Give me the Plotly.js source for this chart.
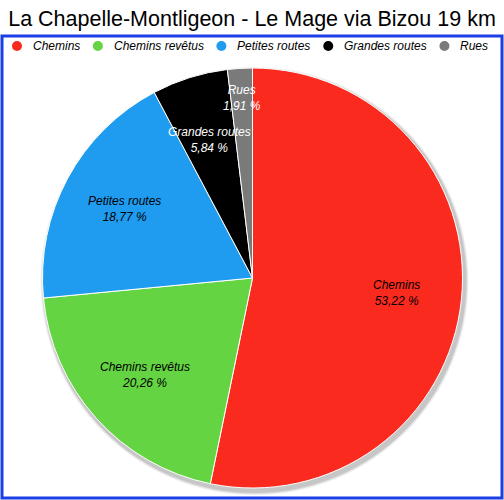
<!DOCTYPE html>
<html>
<head>
<meta charset="utf-8">
<script src="https://cdn.plot.ly/plotly-3.0.1.min.js"></script>
<style>
  html, body { margin: 0; padding: 0; background: #fff; }
  #chart { width: 504px; height: 500px; }
</style>
</head>
<body>
<div id="chart"></div>
<script>
// parts of the route by kind of way, in percent
var labels = ['Chemins', 'Chemins revêtus', 'Petites routes', 'Grandes routes', 'Rues'];
var values = [53.22, 20.26, 18.77, 5.84, 1.91];
var colors = ['#fb2a1f', '#64d443', '#1f9cf0', '#000000', '#7a7a7a'];
var textColors = ['#000', '#000', '#000', '#fff', '#fff'];

var W = 504, H = 500;
var fontName = '"Liberation Sans", Helvetica, Arial, sans-serif';
var domX = [0.084, 0.918], domY = [0.024, 0.864];

// pie geometry in pixels (margins are 0, so paper == page)
var cx = (domX[0] + domX[1]) / 2 * W;
var cy = (1 - (domY[0] + domY[1]) / 2) * H;
var R = Math.min((domX[1] - domX[0]) * W, (domY[1] - domY[0]) * H) / 2;

function px(x) { return x / W; }
function py(y) { return 1 - y / H; }

var pie = {
  type: 'pie',
  labels: labels,
  values: values,
  sort: false,
  direction: 'clockwise',
  rotation: 0,
  marker: { colors: colors, line: { color: '#fff', width: 1 } },
  textinfo: 'none',
  hoverinfo: 'label+percent',
  showlegend: false,
  domain: { x: domX, y: domY }
};

// slice labels on the bisector of each slice, pushed out for tiny slices
var total = values.reduce(function(a, b) { return a + b; }, 0);
var annotations = [];
var cum = 0;
values.forEach(function(v, i) {
  var mid = (cum + v / 2) / total * 2 * Math.PI;
  cum += v;
  var f = v < 3 ? 0.86 : 0.69;
  var x = cx + Math.sin(mid) * R * f;
  var y = cy - Math.cos(mid) * R * f;
  annotations.push({
    xref: 'paper', yref: 'paper',
    x: px(x), y: py(y), xanchor: 'center', yanchor: 'middle',
    text: labels[i] + '<br>' + v.toFixed(2).replace('.', ',') + ' %',
    showarrow: false,
    font: { family: fontName, size: 12, style: 'italic', color: textColors[i] }
  });
});

// legend line: round dots and italic names laid out by measured widths
var ctx = document.createElement('canvas').getContext('2d');
ctx.font = 'italic 12px "Liberation Sans"';
var shapes = [];
var lx = 17, ly = 46;
labels.forEach(function(name, i) {
  shapes.push({
    type: 'circle', xref: 'paper', yref: 'paper',
    xsizemode: 'pixel', ysizemode: 'pixel',
    xanchor: px(lx), yanchor: py(ly),
    x0: -5, x1: 5, y0: -5, y1: 5,
    fillcolor: colors[i], line: { width: 0 }
  });
  annotations.push({
    xref: 'paper', yref: 'paper',
    x: px(lx + 16), y: py(ly), xanchor: 'left', yanchor: 'middle',
    xshift: -2,
    text: name, showarrow: false,
    font: { family: fontName, size: 12, style: 'italic', color: '#000' }
  });
  lx += 15 + ctx.measureText(name).width + 18.5;
});

// soft shadow under the pie
[[4, 0.06], [3, 0.08], [2, 0.1]].forEach(function(s) {
  shapes.unshift({
    type: 'circle', xref: 'paper', yref: 'paper', layer: 'below',
    xsizemode: 'pixel', ysizemode: 'pixel',
    xanchor: px(cx + 2), yanchor: py(cy + 3),
    x0: -(R + s[0]), x1: R + s[0], y0: -(R + s[0]), y1: R + s[0],
    fillcolor: 'rgba(0,0,0,' + s[1] + ')', line: { width: 0 }
  });
});

// blue frame below the title
shapes.push({
  type: 'rect', xref: 'paper', yref: 'paper',
  x0: px(2), x1: px(502), y0: py(498), y1: py(36),
  line: { color: '#1b3ee6', width: 3 },
  fillcolor: 'rgba(0,0,0,0)'
});

var layout = {
  width: W,
  height: H,
  margin: { l: 0, r: 0, t: 0, b: 0 },
  paper_bgcolor: '#fff',
  font: { family: fontName, color: '#000' },
  title: {
    text: 'La Chapelle-Montligeon - Le Mage via Bizou 19 km',
    font: { family: fontName, size: 21.5, color: '#000' },
    x: 0.5, xanchor: 'center',
    y: py(18), yanchor: 'middle'
  },
  showlegend: false,
  annotations: annotations,
  shapes: shapes
};

Plotly.newPlot('chart', [pie], layout, { displayModeBar: false, staticPlot: true });
</script>
</body>
</html>
